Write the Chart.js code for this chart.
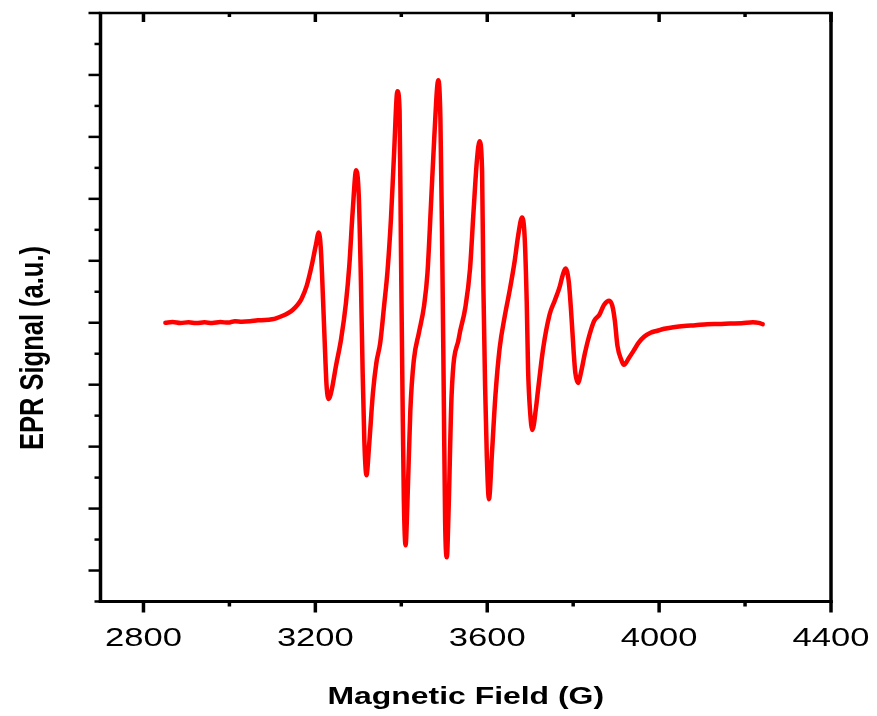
<!DOCTYPE html>
<html>
<head>
<meta charset="utf-8">
<script src="https://cdn.jsdelivr.net/npm/chart.js@4/dist/chart.umd.min.js"></script>
<style>
  html, body { margin: 0; padding: 0; background: #ffffff; }
  canvas { display: block; }
</style>
</head>
<body>
<canvas id="c" width="877" height="716"></canvas>
<script>
// ---- data ----
const fieldG = [
  2851, 2868, 2886, 2905, 2923, 2942, 2960, 2979, 2997, 3013, 3029, 3048, 3066, 3083, 3099, 3110,
  3124, 3136, 3147, 3159, 3168, 3180, 3191, 3201, 3208, 3213, 3218, 3223, 3226, 3231, 3238, 3248,
  3260, 3271, 3279, 3287, 3295, 3301, 3306, 3310, 3314, 3319, 3325, 3334, 3342, 3351, 3360, 3368,
  3376, 3383, 3391, 3396, 3399, 3403, 3406, 3410, 3414, 3421, 3429, 3441, 3453, 3461, 3469, 3477,
  3486, 3491, 3495, 3499, 3502, 3506, 3510, 3517, 3534, 3549, 3560, 3568, 3576, 3582, 3588, 3591,
  3595, 3599, 3604, 3611, 3619, 3629, 3641, 3653, 3664, 3672, 3681, 3687, 3692, 3695, 3700, 3705,
  3714, 3718, 3730, 3745, 3757, 3768, 3776, 3782, 3790, 3796, 3801, 3805, 3811, 3819, 3827, 3838,
  3849, 3861, 3872, 3884, 3891, 3897, 3903, 3912, 3918, 3930, 3942, 3952, 3965, 3980, 3996, 4012,
  4033, 4058, 4084, 4112, 4139, 4165, 4192, 4218, 4232, 4241
];
const signal = [
  0.000, 0.011, -0.005, 0.008, -0.006, 0.006, -0.003, 0.010, 0.002, 0.026, 0.016, 0.023, 0.039, 0.044, 0.057, 0.076,
  0.113, 0.154, 0.206, 0.291, 0.388, 0.599, 0.906, 1.246, 1.456, 1.165, 0.356, -0.534, -1.003, -1.230, -1.084, -0.696,
  -0.259, 0.307, 0.922, 1.812, 2.460, 2.055, 0.680, -0.777, -1.909, -2.460, -1.990, -1.133, -0.647, -0.324, 0.275, 0.841,
  1.683, 2.702, 3.738, 3.430, 1.327, -1.262, -2.880, -3.592, -2.961, -1.424, -0.615, -0.162, 0.275, 0.809, 1.893, 3.026,
  3.916, 3.301, 1.327, -1.262, -3.204, -3.786, -3.042, -1.181, -0.243, 0.243, 0.874, 1.780, 2.621, 2.929, 2.460, 0.599,
  -1.019, -2.152, -2.848, -2.104, -1.181, -0.405, 0.113, 0.550, 1.003, 1.408, 1.699, 1.392, 0.307, -0.744, -1.456, -1.731,
  -1.343, -1.100, -0.421, 0.129, 0.356, 0.566, 0.777, 0.874, 0.647, 0.097, -0.453, -0.809, -0.971, -0.777, -0.502, -0.194,
  0.032, 0.129, 0.291, 0.356, 0.275, 0.032, -0.372, -0.599, -0.680, -0.566, -0.437, -0.324, -0.227, -0.162, -0.129, -0.097,
  -0.073, -0.052, -0.040, -0.024, -0.021, -0.013, -0.008, 0.008, -0.003, -0.024
];
const xMajorTicks = [2800, 3200, 3600, 4000, 4400];
const xMinorTicks = [3000, 3400, 3800, 4200];
const yMajorTicks = [-4, -3, -2, -1, 0, 1, 2, 3, 4, 5];
const yMinorTicks = [-4.5, -3.5, -2.5, -1.5, -0.5, 0.5, 1.5, 2.5, 3.5, 4.5];
const xTitle = 'Magnetic Field (G)';
const yTitle = 'EPR Signal (a.u.)';

const SX = 1.33; // horizontal stretch seen in the reference text

const frame = {
  id: 'frame',
  afterDraw(chart) {
    const ctx = chart.ctx;
    const xs = chart.scales.x, ys = chart.scales.y;
    const L = xs.getPixelForValue(xs.min), R = xs.getPixelForValue(xs.max);
    const T = ys.getPixelForValue(ys.max), B = ys.getPixelForValue(ys.min);
    ctx.save();
    ctx.strokeStyle = '#000';
    ctx.lineCap = 'butt';
    // ticks: left (outward)
    ctx.lineWidth = 2.5;
    yMajorTicks.forEach(v => { const p = ys.getPixelForValue(v); ctx.beginPath(); ctx.moveTo(L - 12, p); ctx.lineTo(L, p); ctx.stroke(); });
    yMinorTicks.forEach(v => { const p = ys.getPixelForValue(v); ctx.beginPath(); ctx.moveTo(L - 6, p); ctx.lineTo(L, p); ctx.stroke(); });
    // bottom ticks (outward)
    ctx.lineWidth = 3.5;
    xMajorTicks.forEach(v => { const p = xs.getPixelForValue(v); ctx.beginPath(); ctx.moveTo(p, B); ctx.lineTo(p, B + 11); ctx.stroke(); });
    xMinorTicks.forEach(v => { const p = xs.getPixelForValue(v); ctx.beginPath(); ctx.moveTo(p, B); ctx.lineTo(p, B + 5); ctx.stroke(); });
    // top ticks (inward)
    xMajorTicks.forEach(v => { const p = xs.getPixelForValue(v); ctx.beginPath(); ctx.moveTo(p, T); ctx.lineTo(p, T + 9); ctx.stroke(); });
    xMinorTicks.forEach(v => { const p = xs.getPixelForValue(v); ctx.beginPath(); ctx.moveTo(p, T); ctx.lineTo(p, T + 4); ctx.stroke(); });
    // frame
    ctx.lineWidth = 3.5;
    ctx.beginPath(); ctx.moveTo(L, T - 1); ctx.lineTo(L, B + 1.5); ctx.stroke();
    ctx.beginPath(); ctx.moveTo(R, T - 1); ctx.lineTo(R, B + 1.5); ctx.stroke();
    ctx.lineWidth = 3;
    ctx.beginPath(); ctx.moveTo(L - 1.75, B); ctx.lineTo(R + 1.75, B); ctx.stroke();
    ctx.lineWidth = 2.5;
    ctx.beginPath(); ctx.moveTo(L - 1.75, T); ctx.lineTo(R + 1.75, T); ctx.stroke();

    // tick labels
    ctx.fillStyle = '#000';
    ctx.font = '26px "Liberation Sans", Arial, sans-serif';
    ctx.textAlign = 'center';
    ctx.textBaseline = 'middle';
    xMajorTicks.forEach(v => {
      const p = xs.getPixelForValue(v);
      ctx.save(); ctx.translate(p, 639); ctx.scale(SX, 1); ctx.fillText(String(v), 0, 0); ctx.restore();
    });
    // axis titles
    ctx.font = 'bold 24px "Liberation Sans", Arial, sans-serif';
    ctx.save(); ctx.translate((L + R) / 2, 697); ctx.scale(SX, 1); ctx.fillText(xTitle, 0, 0); ctx.restore();
    ctx.font = 'bold 25.5px "Liberation Sans", Arial, sans-serif';
    ctx.save(); ctx.translate(34, 348); ctx.scale(SX, 1); ctx.rotate(-Math.PI / 2); ctx.fillText(yTitle, 0, 0); ctx.restore();
    ctx.restore();
  }
};

new Chart(document.getElementById('c'), {
  type: 'line',
  data: {
    datasets: [{
      data: fieldG.map((g, i) => ({ x: g, y: signal[i] })),
      borderColor: '#ff0000',
      borderWidth: 4.5,
      pointRadius: 0,
      fill: false,
      cubicInterpolationMode: 'monotone',
      borderJoinStyle: 'round',
      borderCapStyle: 'round'
    }]
  },
  options: {
    responsive: false,
    animation: false,
    events: [],
    layout: { padding: { left: 100.5, right: 46, top: 13, bottom: 114.5 } },
    plugins: { legend: { display: false }, tooltip: { enabled: false } },
    scales: {
      x: { type: 'linear', min: 2700, max: 4400, display: false },
      y: { type: 'linear', min: -4.5, max: 5, display: false }
    }
  },
  plugins: [frame]
});
</script>
</body>
</html>
